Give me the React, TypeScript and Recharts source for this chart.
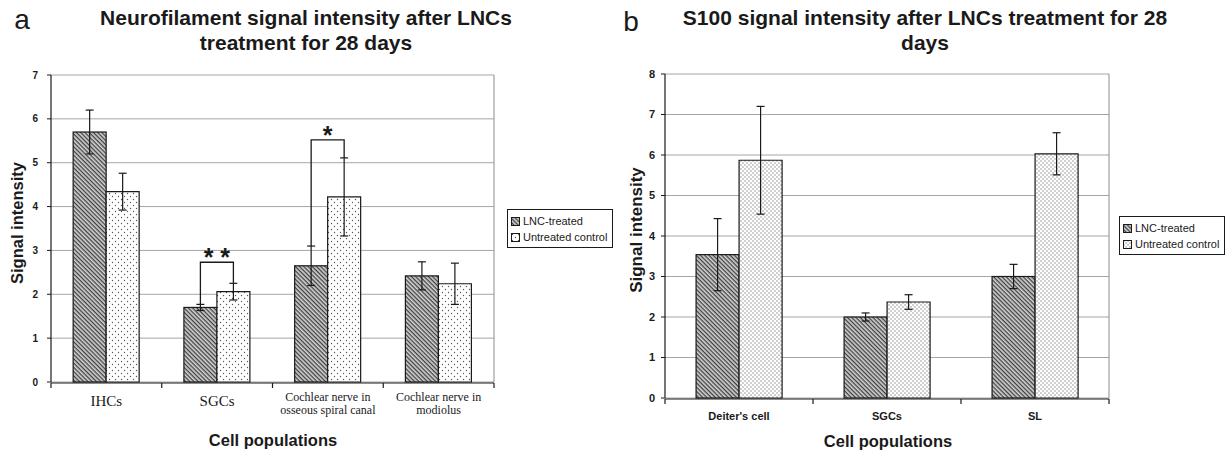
import React from "react";
import { BarChart, Bar, XAxis, YAxis, CartesianGrid, ErrorBar } from "recharts";

// panel a: neurofilament
const categoriesA = ["IHCs", "SGCs", "Cochlear nerve in osseous spiral canal", "Cochlear nerve in modiolus"];
const tickLinesA = [["IHCs"], ["SGCs"], ["Cochlear nerve in", "osseous spiral canal"], ["Cochlear nerve in", "modiolus"]];
const lncA = [5.7, 1.7, 2.65, 2.42];
const lncErrA = [0.5, 0.07, 0.45, 0.32];
const ctrlA = [4.34, 2.06, 4.22, 2.24];
const ctrlErrA = [0.42, 0.19, 0.89, 0.47];
const bracketA = [null, 2.73, 5.52, null];
const starsA = ["", "* *", "*", ""];
const yTicksA = [0, 1, 2, 3, 4, 5, 6, 7];

// panel b: S100
const categoriesB = ["Deiter's cell", "SGCs", "SL"];
const lncB = [3.54, 2.0, 3.0];
const lncErrB = [0.89, 0.1, 0.3];
const ctrlB = [5.87, 2.37, 6.03];
const ctrlErrB = [1.33, 0.18, 0.52];
const yTicksB = [0, 1, 2, 3, 4, 5, 6, 7, 8];

const seriesNames = ["LNC-treated", "Untreated control"];

const SANS = "'Liberation Sans', Arial, sans-serif";
const SERIF = "'Liberation Serif', 'Times New Roman', serif";
const INK = "#1a1a1a";
const GRID = "#a6a6a6";

const dataA = categoriesA.map((name, i) => ({
  name,
  idx: i + 0.5,
  lnc: lncA[i],
  lncErr: lncErrA[i],
  ctrl: ctrlA[i],
  ctrlErr: ctrlErrA[i],
  bracket: bracketA[i],
  stars: starsA[i],
}));

const dataB = categoriesB.map((name, i) => ({
  name,
  idx: i + 0.5,
  lnc: lncB[i],
  lncErr: lncErrB[i],
  ctrl: ctrlB[i],
  ctrlErr: ctrlErrB[i],
  bracket: null,
  stars: "",
}));

const Patterns = ({ suffix, dense }: { suffix: string; dense: boolean }) => (
  <defs>
    <pattern id={`hatch${suffix}`} patternUnits="userSpaceOnUse" width="3" height="3" patternTransform="rotate(45)">
      <rect width="3" height="3" fill="#d2d2d2" />
      <rect width="3" height="1.3" fill="#404040" />
    </pattern>
    {dense ? (
      <pattern id={`dots${suffix}`} patternUnits="userSpaceOnUse" width="4" height="4">
        <rect width="4" height="4" fill="#fff" />
        <circle cx="1" cy="1" r="0.65" fill="#777" />
        <circle cx="3" cy="3" r="0.65" fill="#777" />
      </pattern>
    ) : (
      <pattern id={`dots${suffix}`} patternUnits="userSpaceOnUse" width="6" height="6">
        <rect width="6" height="6" fill="#fff" />
        <circle cx="1.5" cy="1.5" r="0.7" fill="#555" />
        <circle cx="4.5" cy="4.5" r="0.7" fill="#555" />
      </pattern>
    )}
  </defs>
);

// LNC bar with the significance bracket drawn from the bar's own geometry
const makeLncShape = (suffix: string) => (p: any) => {
  const { x, y, width, height, payload } = p;
  const ppu = height / payload.lnc;
  const base = y + height;
  let bracket = null;
  if (payload.bracket != null) {
    const cx1 = x + width / 2;
    const cx2 = x + width * 1.5;
    const by = base - payload.bracket * ppu;
    const y1 = base - (payload.lnc + payload.lncErr) * ppu;
    const y2 = base - (payload.ctrl + payload.ctrlErr) * ppu;
    bracket = (
      <g>
        <polyline
          points={`${cx1},${y1} ${cx1},${by} ${cx2},${by} ${cx2},${y2}`}
          fill="none"
          stroke={INK}
          strokeWidth={1.3}
        />
        <text x={x + width} y={by + 4} textAnchor="middle" fontSize={25} fontWeight="bold" fontFamily={SANS} fill={INK}>
          {payload.stars}
        </text>
      </g>
    );
  }
  return (
    <g>
      <rect x={x} y={y} width={width} height={height} fill={`url(#hatch${suffix})`} stroke={INK} strokeWidth={1.2} />
      {bracket}
    </g>
  );
};

const TickA = (p: any) => {
  const { x, y, payload, index } = p;
  const lines = tickLinesA[payload?.index ?? index] || [String(payload.value)];
  if (lines.length === 1) {
    return (
      <text x={x} y={y + 24} textAnchor="middle" fontSize={15} fontFamily={SERIF} fill={INK}>
        {lines[0]}
      </text>
    );
  }
  return (
    <text x={x} y={y + 19} textAnchor="middle" fontSize={12} fontFamily={SERIF} fill={INK}>
      {lines.map((l, i) => (
        <tspan key={i} x={x} dy={i === 0 ? 0 : 13}>
          {l}
        </tspan>
      ))}
    </text>
  );
};

const TickB = (p: any) => {
  const { x, y, payload } = p;
  return (
    <text x={x} y={y + 22} textAnchor="middle" fontSize={11} fontWeight="bold" fontFamily={SANS} fill={INK}>
      {payload.value}
    </text>
  );
};

// boundary ticks only: mark, no label
const EdgeTick = () => <g />;

const Legend = ({ left, top, suffix, dense }: { left: number; top: number; suffix: string; dense: boolean }) => (
  <div
    style={{
      position: "absolute",
      left,
      top,
      width: 106,
      height: 39,
      border: `1px solid ${INK}`,
      background: "#fff",
      fontFamily: SANS,
      fontSize: 11,
      color: INK,
      boxSizing: "border-box",
      padding: "3px 0 0 3px",
      lineHeight: "16px",
      whiteSpace: "nowrap",
    }}
  >
    {seriesNames.map((s, i) => (
      <div key={s} style={{ display: "flex", alignItems: "center", height: 16 }}>
        <svg width={9} height={9} style={{ marginRight: 3, flex: "none" }}>
          <Patterns suffix={`L${suffix}`} dense={dense} />
          <rect
            x={0.5}
            y={0.5}
            width={8}
            height={8}
            fill={i === 0 ? `url(#hatchL${suffix})` : `url(#dotsL${suffix})`}
            stroke={INK}
            strokeWidth={1}
          />
        </svg>
        <span>{s}</span>
      </div>
    ))}
  </div>
);

const Title = ({ cx, lines }: { cx: number; lines: string[] }) => (
  <div
    style={{
      position: "absolute",
      left: cx - 300,
      top: 5,
      width: 600,
      textAlign: "center",
      fontFamily: SANS,
      fontWeight: "bold",
      fontSize: 21,
      lineHeight: "25px",
      color: INK,
      whiteSpace: "nowrap",
    }}
  >
    {lines.map((l) => (
      <div key={l}>{l}</div>
    ))}
  </div>
);

const Text = ({ cx, cy, text, size, bold, rotate }: any) => (
  <div
    style={{
      position: "absolute",
      left: cx - 150,
      top: cy - 15,
      width: 300,
      height: 30,
      lineHeight: "30px",
      textAlign: "center",
      fontFamily: SANS,
      fontWeight: bold ? "bold" : "normal",
      fontSize: size,
      color: INK,
      transform: rotate ? "rotate(-90deg)" : undefined,
      whiteSpace: "nowrap",
    }}
  >
    {text}
  </div>
);

const Panel = ({ data, suffix, dense, width, margin, yMax, yTicks, tick, gap, tickMargin, tickFont }: any) => (
  <BarChart width={width} height={456} data={data} margin={margin} barGap={0} barCategoryGap={gap}>
    <Patterns suffix={suffix} dense={dense} />
    <CartesianGrid vertical={false} stroke={GRID} strokeWidth={1} />
    <XAxis
      xAxisId="edge"
      type="number"
      dataKey="idx"
      domain={[0, data.length]}
      ticks={Array.from({ length: data.length + 1 }, (_, i) => i)}
      interval={0}
      tick={<EdgeTick />}
      tickSize={5}
      height={1}
      axisLine={{ stroke: INK, strokeWidth: 1.2 }}
      tickLine={{ stroke: INK, strokeWidth: 1.2 }}
    />
    <XAxis dataKey="name" interval={0} axisLine={false} tickLine={false} tickSize={0} tickMargin={0} height={1} tick={tick} />
    <YAxis
      domain={[0, yMax]}
      ticks={yTicks}
      interval={0}
      width={30}
      tickSize={4}
      tickMargin={tickMargin}
      axisLine={{ stroke: INK, strokeWidth: 1.2 }}
      tickLine={{ stroke: INK }}
      tick={{ fontSize: tickFont, fontWeight: "bold", fill: INK, fontFamily: SANS }}
    />
    <YAxis
      yAxisId="frame"
      orientation="right"
      domain={[0, yMax]}
      width={1}
      tick={false}
      tickLine={false}
      axisLine={{ stroke: "#8c8c8c" }}
    />
    <Bar dataKey="lnc" name={seriesNames[0]} shape={makeLncShape(suffix)} isAnimationActive={false}>
      <ErrorBar dataKey="lncErr" width={4} stroke={INK} strokeWidth={1.2} />
    </Bar>
    <Bar dataKey="ctrl" name={seriesNames[1]} fill={`url(#dots${suffix})`} stroke={INK} strokeWidth={1.2} isAnimationActive={false}>
      <ErrorBar dataKey="ctrlErr" width={4} stroke={INK} strokeWidth={1.2} />
    </Bar>
  </BarChart>
);

export default function App() {
  return (
    <div style={{ position: "absolute", left: 0, top: 0, width: 1229, height: 456, background: "#fff", overflow: "hidden" }}>
      <div style={{ position: "absolute", left: 0, top: 0 }}>
        <Panel
          data={dataA}
          suffix="A"
          dense={false}
          width={620}
          margin={{ top: 75, left: 21, right: 125, bottom: 72 }}
          yMax={7}
          yTicks={yTicksA}
          tick={<TickA />}
          gap="20%"
          tickMargin={9}
          tickFont={10}
        />
      </div>
      <div style={{ position: "absolute", left: 620, top: 0 }}>
        <Panel
          data={dataB}
          suffix="B"
          dense={true}
          width={609}
          margin={{ top: 74, left: 15, right: 119, bottom: 56 }}
          yMax={8}
          yTicks={yTicksB}
          tick={<TickB />}
          gap="21%"
          tickMargin={6}
          tickFont={11}
        />
      </div>

      <Title cx={306} lines={["Neurofilament signal intensity after LNCs", "treatment for 28 days"]} />
      <Title cx={925} lines={["S100 signal intensity after LNCs treatment for 28", "days"]} />
      <Text cx={22} cy={20} text="a" size={28} />
      <Text cx={631} cy={22} text="b" size={28} />
      <Text cx={17} cy={223} text="Signal intensity" size={16.5} bold rotate />
      <Text cx={637} cy={230} text="Signal intensity" size={17} bold rotate />
      <Text cx={273} cy={440} text="Cell populations" size={16.5} bold />
      <Text cx={888} cy={441} text="Cell populations" size={16.5} bold />

      <Legend left={507} top={209} suffix="A" dense={false} />
      <Legend left={1119} top={216} suffix="B" dense={true} />
    </div>
  );
}
